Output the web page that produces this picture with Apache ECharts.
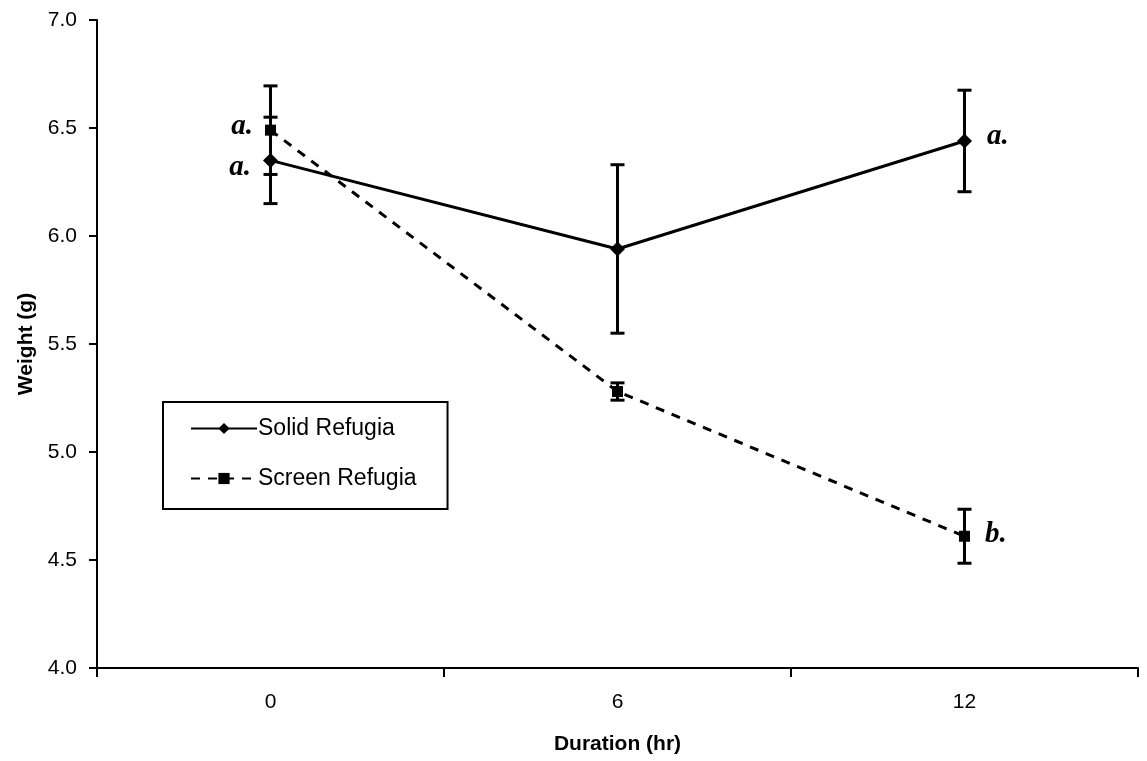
<!DOCTYPE html>
<html>
<head>
<meta charset="utf-8">
<script src="https://cdn.jsdelivr.net/npm/echarts@6/dist/echarts.min.js"></script>
<style>
  html, body { margin: 0; padding: 0; background: #fff; }
  #chart { width: 1147px; height: 761px; }
</style>
</head>
<body>
<div id="chart"></div>
<script>
// categories (hours)
var durations = ['0', '6', '12'];

// Solid Refugia: mean and error (+/-)
var solidMean = [6.35, 5.94, 6.44];
var solidErr = [0.20, 0.39, 0.235];
var solidSig = ['a.', '', 'a.'];

// Screen Refugia
var screenMean = [6.49, 5.28, 4.61];
var screenErr = [0.205, 0.04, 0.125];
var screenSig = ['a.', '', 'b.'];

var yTicks = { min: 4.0, max: 7.0, step: 0.5 };

var chart = echarts.init(document.getElementById('chart'));

var sigFont = {
    fontFamily: '"Liberation Serif", "DejaVu Serif", serif',
    fontStyle: 'italic',
    fontWeight: 'bold',
    fontSize: 29,
    color: '#000'
};

function withLabels(means, sigs, yOffsets) {
    return means.map(function (v, i) {
        var item = { value: v };
        if (sigs[i]) {
            item.label = Object.assign({
                show: true,
                formatter: sigs[i],
                position: i === 0 ? 'left' : 'right',
                distance: i === 0 ? 12 : 15,
                offset: [0, yOffsets[i] || 0]
            }, sigFont);
        }
        return item;
    });
}

function errData(means, errs) {
    return means.map(function (v, i) {
        return [i, v - errs[i], v + errs[i]];
    });
}

function renderErr(params, api) {
    var x = api.value(0);
    var lo = api.coord([x, api.value(1)]);
    var hi = api.coord([x, api.value(2)]);
    var half = 7;
    var style = { stroke: '#000', lineWidth: 3 };
    return {
        type: 'group',
        children: [
            { type: 'line', shape: { x1: hi[0], y1: hi[1], x2: lo[0], y2: lo[1] }, style: style },
            { type: 'line', shape: { x1: hi[0] - half, y1: hi[1], x2: hi[0] + half, y2: hi[1] }, style: style },
            { type: 'line', shape: { x1: lo[0] - half, y1: lo[1], x2: lo[0] + half, y2: lo[1] }, style: style }
        ]
    };
}

var sans = '"Liberation Sans", Arial, sans-serif';
var narrow = '"Liberation Sans Narrow", "Arial Narrow", "Liberation Sans", Arial, sans-serif';

chart.setOption({
    animation: false,
    backgroundColor: '#fff',
    grid: { left: 97, right: 9, top: 20, bottom: 93, containLabel: false },
    legend: {
        orient: 'vertical',
        left: 163,
        top: 402,
        data: ['Solid Refugia', 'Screen Refugia'],
        borderColor: '#000',
        borderWidth: 2,
        padding: [15, 31, 19, 27],
        itemGap: 27,
        itemWidth: 66,
        itemHeight: 14,
        textStyle: { fontFamily: sans, fontSize: 23, color: '#000', padding: [0, 0, 0, -4] }
    },
    xAxis: {
        type: 'category',
        data: durations,
        boundaryGap: true,
        name: 'Duration (hr)',
        nameLocation: 'middle',
        nameGap: 66,
        nameTextStyle: { fontFamily: narrow, fontSize: 21, fontWeight: 'bold', color: '#000' },
        axisLine: { lineStyle: { color: '#000', width: 2 } },
        axisTick: { show: true, alignWithLabel: false, length: 9, lineStyle: { color: '#000', width: 2 } },
        axisLabel: { margin: 24, fontFamily: narrow, fontSize: 21, color: '#000' },
        splitLine: { show: false }
    },
    yAxis: {
        type: 'value',
        min: yTicks.min,
        max: yTicks.max,
        interval: yTicks.step,
        name: 'Weight (g)',
        nameLocation: 'middle',
        nameGap: 60,
        nameRotate: 90,
        nameTextStyle: { fontFamily: sans, fontSize: 21, fontWeight: 'bold', color: '#000' },
        axisLine: { show: true, lineStyle: { color: '#000', width: 2 } },
        axisTick: { show: true, length: 8, lineStyle: { color: '#000', width: 2 } },
        axisLabel: { margin: 20, fontFamily: sans, fontSize: 21, color: '#000', formatter: function (v) { return v.toFixed(1); } },
        splitLine: { show: false }
    },
    series: [
        {
            name: 'Solid Refugia err',
            type: 'custom',
            renderItem: renderErr,
            data: errData(solidMean, solidErr),
            z: 1,
            silent: true
        },
        {
            name: 'Screen Refugia err',
            type: 'custom',
            renderItem: renderErr,
            data: errData(screenMean, screenErr),
            z: 1,
            silent: true
        },
        {
            name: 'Solid Refugia',
            type: 'line',
            data: withLabels(solidMean, solidSig, [7, 0, -4]),
            symbol: 'diamond',
            symbolSize: 15,
            itemStyle: { color: '#000' },
            lineStyle: { color: '#000', width: 3 },
            z: 3
        },
        {
            name: 'Screen Refugia',
            type: 'line',
            data: withLabels(screenMean, screenSig, [-4, 0, -2]),
            symbol: 'rect',
            symbolSize: 11,
            itemStyle: { color: '#000' },
            lineStyle: { color: '#000', width: 3, type: [9, 8] },
            z: 3
        }
    ]
});
</script>
</body>
</html>
